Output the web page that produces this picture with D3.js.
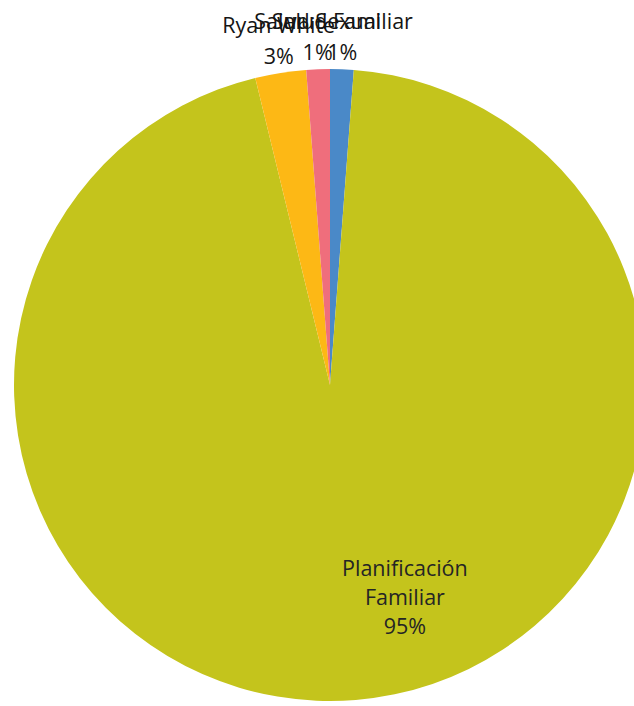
<!DOCTYPE html>
<html>
<head>
<meta charset="utf-8">
<script src="https://cdn.jsdelivr.net/npm/d3@7"></script>
<style>
  html, body { margin: 0; padding: 0; background: #ffffff; }
  svg { display: block; }
</style>
</head>
<body>
<svg id="chart" width="634" height="706"></svg>
<script>
// Program share of funding, clockwise from 12 o'clock
const categories = ["Salud Familiar", "Planificación Familiar", "Ryan White", "Salud Sexual"];
const values = [1.2, 95.0, 2.6, 1.2];
const colors = ["#4a89c8", "#c4c41c", "#fdb815", "#ef6e7c"];

const width = 634, height = 706;
const cx = 330, cy = 385, radius = 316;

const svg = d3.select("#chart");
const g = svg.append("g").attr("transform", `translate(${cx},${cy})`);

const data = categories.map((c, i) => ({ name: c, value: values[i], color: colors[i] }));

const pie = d3.pie().value(d => d.value).sort(null);
const arcs = pie(data);
const arc = d3.arc().innerRadius(0).outerRadius(radius);

g.selectAll("path.slice")
  .data(arcs)
  .join("path")
  .attr("class", "slice")
  .attr("d", arc)
  .attr("fill", d => d.data.color);

const total = d3.sum(values);
const pct = v => Math.round(v / total * 100) + "%";
const font = "Open Sans, 'Noto Sans', sans-serif";
const fontSize = 21.5;

// Small slices: labels outside the rim, name above percentage
const outerLabel = d3.arc().innerRadius(radius + 12).outerRadius(radius + 12);
const small = arcs.filter(d => d.data.value / total < 0.5);
const smallG = g.selectAll("g.outlabel")
  .data(small)
  .join("g")
  .attr("class", "outlabel")
  .attr("transform", d => {
    const [x, y] = outerLabel.centroid(d);
    return `translate(${x},${y + 3})`;
  });
smallG.append("text")
  .attr("text-anchor", "middle")
  .attr("y", -31)
  .attr("font-family", font)
  .attr("font-size", fontSize)
  .attr("fill", "#151515")
  .text(d => d.data.name);
smallG.append("text")
  .attr("text-anchor", "middle")
  .attr("y", 0)
  .attr("font-family", font)
  .attr("font-size", fontSize)
  .attr("fill", "#151515")
  .text(d => pct(d.data.value));

// Large slice: label inside, split over lines
const big = arcs.filter(d => d.data.value / total >= 0.5);
const bigG = g.selectAll("g.inlabel")
  .data(big)
  .join("g")
  .attr("class", "inlabel")
  .attr("transform", `translate(${radius * 0.237},${radius * 0.606})`);
bigG.each(function(d) {
  const lines = d.data.name.split(" ").concat([pct(d.data.value)]);
  d3.select(this).selectAll("text")
    .data(lines)
    .join("text")
    .attr("text-anchor", "middle")
    .attr("y", (l, i) => i * 29)
    .attr("font-family", font)
    .attr("font-size", fontSize)
    .attr("fill", "#252525")
    .text(l => l);
});
</script>
</body>
</html>
